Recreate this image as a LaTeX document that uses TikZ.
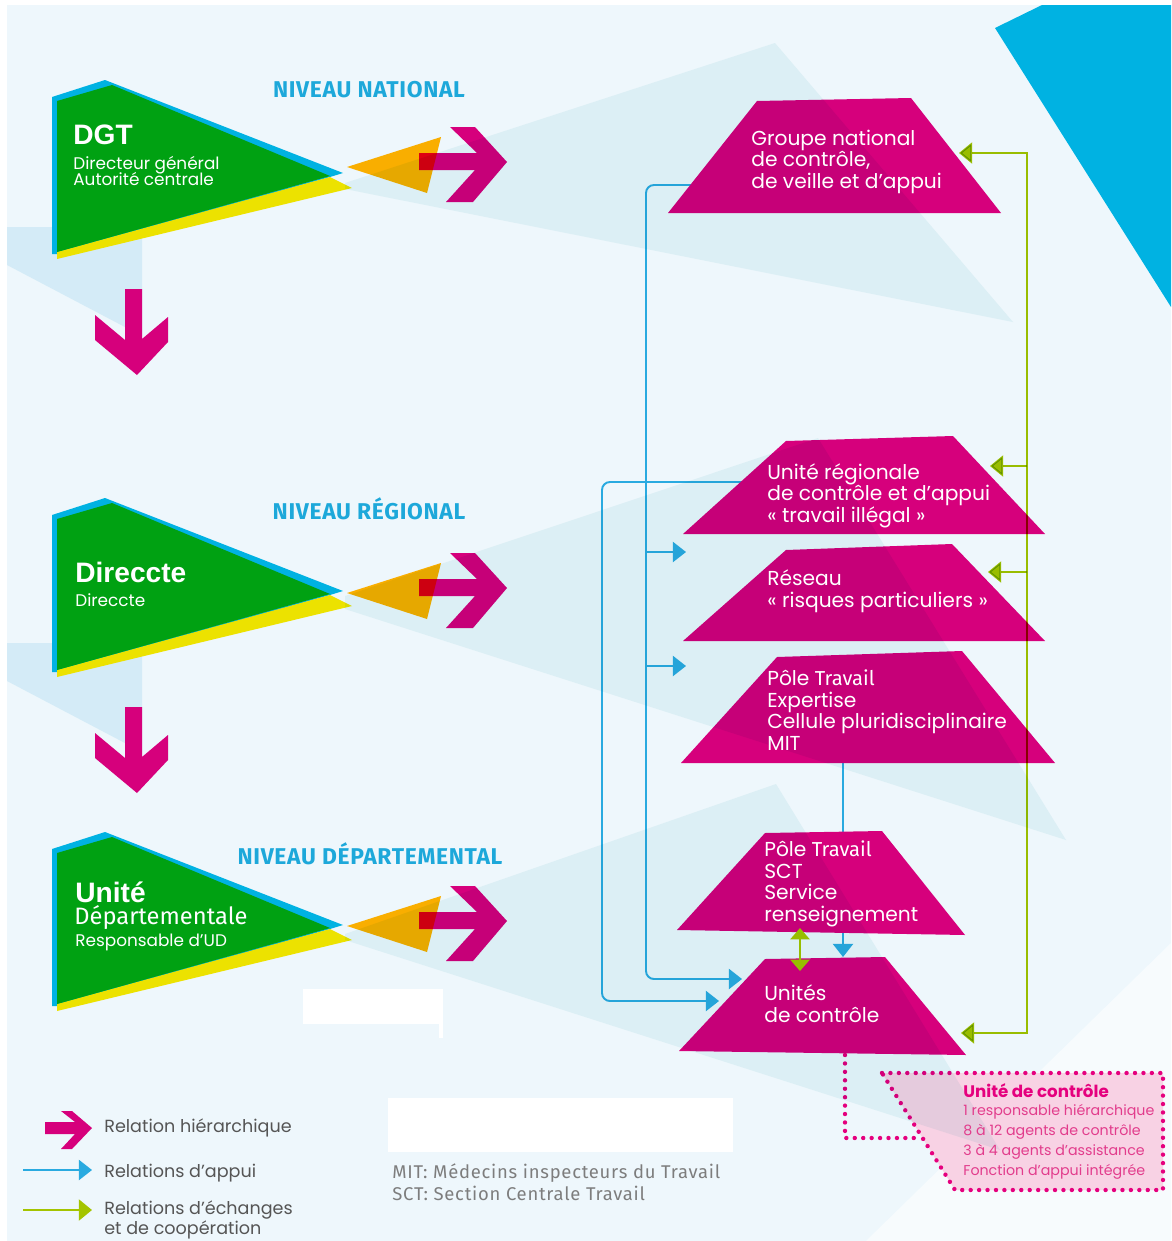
\documentclass[tikz,border=0pt]{standalone}
\usepackage{fontspec}
\setmainfont{Poppins}
\newfontfamily\firafont{Fira Sans}
\newfontfamily\nivfont{Fira Sans}[LetterSpace=3]
\newfontfamily\mitfont{Fira Sans}[LetterSpace=4]
\newfontfamily\gras{Liberation Sans}
\usetikzlibrary{arrows.meta}
\definecolor{fond}{RGB}{238,247,252}
\definecolor{pale}{RGB}{236,247,248}
\definecolor{paleL}{RGB}{228,243,250}
\definecolor{cyanc}{RGB}{0,178,226}
\definecolor{verts}{RGB}{0,161,18}
\definecolor{jaune}{RGB}{236,226,0}
\definecolor{orangef}{RGB}{249,174,0}
\definecolor{rouge}{RGB}{222,0,18}
\definecolor{mag}{RGB}{214,0,124}
\definecolor{appui}{RGB}{41,170,224}
\definecolor{echange}{RGB}{164,196,0}
\definecolor{niveau}{RGB}{29,168,218}
\definecolor{gristxt}{RGB}{85,85,85}
\definecolor{grismit}{RGB}{125,125,125}
\definecolor{rose}{RGB}{229,0,126}
\definecolor{rosetxt}{RGB}{226,60,140}
\definecolor{rosepale}{RGB}{248,210,228}

\begin{document}
\begin{tikzpicture}[x=0.02cm,y=-0.02cm]
\tikzstyle{every node}+=[inner sep=0pt]
\tikzstyle{trap}=[fill=mag]
\tikzstyle{traptxt}=[text=white,align=left,anchor=base west,font=\fontsize{11.5}{12.2}\selectfont]
\tikzstyle{titre}=[text=white,anchor=base west,font=\gras\bfseries\fontsize{16}{18}\selectfont]
\tikzstyle{soustitre}=[text=white,align=left,anchor=base west,font={\fontsize{9.6}{8.6}\selectfont\lineskiplimit-6pt\relax}]
\tikzstyle{niv}=[text=niveau,anchor=base,font=\nivfont\bfseries\fontsize{13}{14}\selectfont]
\tikzstyle{legtxt}=[text=gristxt,align=left,anchor=base west,font=\fontsize{10}{11}\selectfont]
\tikzstyle{appuiline}=[draw=appui,line width=1.1pt,rounded corners=4.5pt,-{Triangle[length=7.5pt,width=11.5pt]}]
\tikzstyle{echline}=[draw=echange,line width=1.1pt,-{Triangle[length=7.5pt,width=12pt]}]
\tikzstyle{pointille}=[draw=rose,line width=2.5pt,line cap=round,dash pattern=on 0pt off 4.8pt]
\useasboundingbox (0,0) rectangle (1171,1241);

% fond
\fill[white] (0,0) rectangle (1171,1241);
\fill[fond] (7,5) rectangle (1171,1241);
\fill[white,opacity=0.55] (1171,943) -- (1171,1241) -- (866,1241) -- cycle;
\fill[cyanc] (995,28) -- (1042,5) -- (1171,5) -- (1171,307) -- cycle;
\foreach \dy in {0,416}
  \fill[paleL,blend mode=multiply] (7,227+\dy) -- (142,227+\dy) -- (142,336+\dy) -- (7,265+\dy) -- cycle;

% niveaux : bloc vert et fleche hierarchique
\foreach \dy/\da in {0/0,418/426,752/759}{
  \begin{scope}[shift={(0,\dy)}]
    \fill[cyanc] (52,97) -- (105,80) -- (343,173) -- (330,177) -- (57,254) -- (52,254) -- cycle;
    \fill[jaune] (57,252) -- (330,177) -- (352,188) -- (57,259) -- cycle;
    \fill[verts] (57,101) -- (112,85) -- (330,176) -- (57,252) -- cycle;
  \end{scope}
  \begin{scope}[shift={(0,\da)}]
    \fill[orangef] (347,167) -- (441,137) -- (427,193) -- cycle;
    \fill[mag] (419,153) -- (477,153) -- (450,127) -- (475,127) -- (507,162)
      -- (473,202) -- (446,202) -- (475,170) -- (419,170) -- cycle;
    \begin{scope}
      \clip (347,167) -- (441,137) -- (427,193) -- cycle;
      \fill[rouge] (419,153) rectangle (450,170);
    \end{scope}
  \end{scope}
}
\foreach \dy in {0,418}
  \fill[mag] (125,289+\dy) -- (142,289+\dy) -- (142,339+\dy) -- (168,317+\dy) -- (168,342+\dy)
    -- (137,375+\dy) -- (95,340+\dy) -- (95,315+\dy) -- (125,340+\dy) -- cycle;

% points d'attache
\coordinate (gn-w) at (700,185);
\coordinate (ur-w) at (745,482);
\coordinate (rs-w) at (686,552);
\coordinate (pe-w) at (686,666);
\coordinate (pe-s) at (843,763);
\coordinate (uc-n) at (843,957);
\coordinate (uc-w1) at (742,979);
\coordinate (uc-w2) at (719,1001);
\coordinate (ap1-c) at (646,979);
\coordinate (ap2-c) at (602,1001);
\coordinate (gn-e) at (959,153);
\coordinate (ur-e) at (990,466);
\coordinate (rs-e) at (988,572);
\coordinate (uc-e) at (961,1033);
\coordinate (ech-c) at (1027,1033);
\coordinate (ps-g) at (800,928);
\coordinate (uc-g) at (800,971);
\coordinate (uc-s) at (845,1055);
\coordinate (box-w) at (920,1138);

% relations d'appui
\draw[appuiline] (gn-w) -| (ap1-c) -- (uc-w1);
\draw[appuiline] (ap1-c |- rs-w) -- (rs-w);
\draw[appuiline] (ap1-c |- pe-w) -- (pe-w);
\draw[appuiline] (ur-w) -| (ap2-c) -- (uc-w2);
\draw[appuiline] (pe-s) -- (uc-n);

% services
\fill[trap] (757,101) -- (911,98) -- (1001,213) -- (668,213) -- cycle;
\fill[trap] (786,441) -- (953,436) -- (1045,534) -- (683,534) -- cycle;
\fill[trap] (786,550) -- (952,544) -- (1045,641) -- (683,641) -- cycle;
\fill[trap] (777,657) -- (962,651) -- (1055,763) -- (681,763) -- cycle;
\fill[trap] (765,833) -- (882,831) -- (965,935) -- (677,930) -- cycle;
\fill[trap] (765,959) -- (885,957) -- (966,1055) -- (679,1051) -- cycle;

% relations d'echanges
\draw[echline,blend mode=multiply,{Triangle[length=7.5pt,width=12pt]}-{Triangle[length=7.5pt,width=12pt]}]
  (gn-e) -| (ech-c) -- (uc-e);
\draw[echline,blend mode=multiply] (ech-c |- ur-e) -- (ur-e);
\draw[echline,blend mode=multiply] (ech-c |- rs-e) -- (rs-e);
\draw[echline,{Triangle[length=6.5pt,width=11pt]}-{Triangle[length=6.5pt,width=11pt]}] (ps-g) -- (uc-g);

% unite de controle
\draw[pointille] (uc-s) |- (box-w);
\fill[rosepale] (882,1073) -- (1163,1073) -- (1163,1190) -- (955,1190) -- cycle;
\draw[pointille] (882,1073) -- (1163,1073) -- (1163,1190) -- (955,1190) -- cycle;

% grands triangles pales
\fill[pale,blend mode=multiply] (345,183) -- (775,43) -- (1013,322) -- (345,189) -- cycle;
\fill[pale,blend mode=multiply] (345,596) -- (818,438) -- (1066,840) -- (345,609) -- cycle;
\fill[pale,blend mode=multiply] (345,934) -- (776,784) -- (1000,1150) -- (345,940) -- cycle;

% caches blancs
\fill[white] (303,989) rectangle (443,1024);
\fill[white] (439,1024) rectangle (443,1038);
\fill[white] (388,1098) rectangle (733,1152);

% textes (ancre : ligne de base de la derniere ligne)
\node[niv] (niv-n) at (369,97) {NIVEAU NATIONAL};
\node[niv] (niv-r) at (369,519) {NIVEAU RÉGIONAL};
\node[niv] (niv-d) at (370,864) {NIVEAU DÉPARTEMENTAL};
\node[titre] (dgt) at (73,144) {DGT};
\node[soustitre] (dgt-s) at (73,185) {Directeur général\\Autorité centrale};
\node[titre] (dir) at (75,582) {Direccte};
\node[soustitre] (dir-s) at (75,606) {Direccte};
\node[titre] (ud) at (75,902) {Unité};
\node[text=white,anchor=base west,font=\firafont\fontsize{13.5}{14}\selectfont] (ud-s) at (74,924) {Départementale};
\node[soustitre] (ud-r) at (75,946) {Responsable d’UD};

\node[traptxt] (gn-t) at (751,188) {Groupe national\\de contrôle,\\de veille et d’appui};
\node[traptxt] (ur-t) at (767,522) {Unité régionale\\de contrôle et d’appui\\« travail illégal »};
\node[traptxt] (rs-t) at (767,607) {Réseau\\« risques particuliers »};
\node[traptxt] (pe-t) at (767,750) {Pôle {\firafont Travail}\\Expertise\\Cellule pluridisciplinaire\\MIT};
\node[traptxt] (ps-t) at (764,921) {Pôle {\firafont Travail}\\SCT\\Service\\renseignement};
\node[traptxt] (uc-t) at (764,1022) {Unités\\de contrôle};

\node[text=rose,anchor=base west,font=\bfseries\fontsize{9.5}{11}\selectfont] (box-t) at (963,1097) {Unité de contrôle};
\node[text=rosetxt,align=left,anchor=base west,font=\fontsize{8.1}{11.2}\selectfont] (box-l) at (963,1175)
  {1 responsable hiérarchique\\8 à 12 agents de contrôle\\3 à 4 agents d’assistance\\Fonction d’appui intégrée};

\node[text=grismit,align=left,anchor=base west,font=\mitfont\fontsize{10.5}{12.5}\selectfont] (mit) at (392,1200)
  {MIT: Médecins inspecteurs du Travail\\SCT: Section Centrale Travail};

% legende
\fill[mag] (45,1122) -- (75,1122) -- (61,1111) -- (72,1111) -- (92,1128) -- (72,1149) -- (61,1149) -- (75,1134) -- (45,1134) -- cycle;
\coordinate (lg-a1) at (23,1170);
\coordinate (lg-a2) at (92,1170);
\coordinate (lg-e1) at (23,1210);
\coordinate (lg-e2) at (92,1210);
\draw[appuiline] (lg-a1) -- (lg-a2);
\draw[echline] (lg-e1) -- (lg-e2);
\node[legtxt] (lg-h) at (104,1132) {Relation hiérarchique};
\node[legtxt] (lg-a) at (104,1177) {Relations d’appui};
\node[legtxt] (lg-e) at (104,1234) {Relations d’échanges\\et de coopération};
\end{tikzpicture}
\end{document}
